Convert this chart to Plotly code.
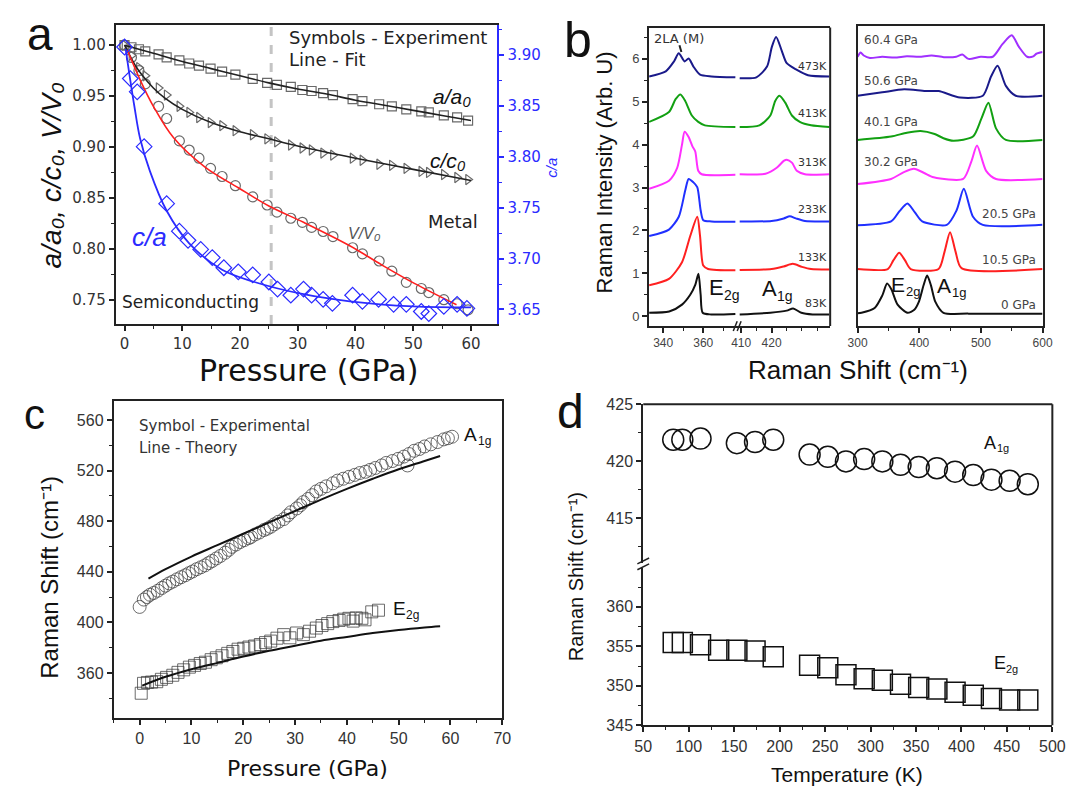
import plotly.graph_objects as go

W, H = 1081, 796
def px(X): return X / W
def py(Y): return 1 - Y / H

FONT = "Liberation Sans, Arial, sans-serif"
DJ = "DejaVu Sans, Verdana, sans-serif"
BLUE = "#2b2bff"
GREY = "#6a6a6a"

# ---------------- panel a : lattice ratios vs pressure ----------------
P_exp = [0, 1.2, 2.5, 3.6, 5.9, 7.3, 9.5, 11.2, 12.9, 14.9, 16.9, 19.2, 22.2, 24.7, 26.4,
         28.8, 30.8, 32.4, 34.4, 36.1, 39.5, 41.2, 44.1, 46.3, 48.8, 51.4, 52.7, 55.3, 57.6, 59.5]
a_over_a0 = [1.000, 0.998, 0.996, 0.994, 0.991, 0.988, 0.985, 0.982, 0.980, 0.977, 0.974, 0.971,
             0.967, 0.963, 0.961, 0.959, 0.956, 0.955, 0.953, 0.951, 0.947, 0.945, 0.942, 0.940,
             0.937, 0.935, 0.934, 0.931, 0.929, 0.926]
c_over_c0 = [1.000, 0.990, 0.978, 0.970, 0.958, 0.951, 0.940, 0.934, 0.929, 0.924, 0.921, 0.916,
             0.912, 0.908, 0.905, 0.902, 0.899, 0.897, 0.894, 0.892, 0.889, 0.887, 0.883, 0.882,
             0.879, 0.876, 0.875, 0.873, 0.870, 0.868]
V_over_V0 = [1.000, 0.988, 0.975, 0.962, 0.940, 0.928, 0.906, 0.897, 0.889, 0.879, 0.871, 0.862,
             0.851, 0.843, 0.836, 0.830, 0.826, 0.821, 0.817, 0.812, 0.801, 0.795, 0.788, 0.778,
             0.767, 0.761, 0.757, 0.750, 0.746, 0.740]
P_ca = [0, 1, 2.2, 3.4, 7.3, 9.5, 11, 13.2, 15.2, 17.2, 19.7, 22.2, 25, 26.5, 28.8, 31, 32.4,
        34.4, 36, 39.5, 41.2, 44, 46.6, 48.8, 51.4, 52.7, 55.3, 57.6, 59.3]
c_over_a = [3.908, 3.877, 3.864, 3.810, 3.754, 3.727, 3.718, 3.709, 3.701, 3.691, 3.687, 3.684,
            3.677, 3.670, 3.664, 3.670, 3.664, 3.660, 3.656, 3.664, 3.658, 3.660, 3.655, 3.655,
            3.648, 3.646, 3.653, 3.655, 3.651]
P_afit = [0, 5, 10, 15, 20, 25, 30, 35, 40, 45, 50, 55, 60]
a_fit = [1.000, 0.992, 0.984, 0.977, 0.970, 0.963, 0.957, 0.952, 0.946, 0.941, 0.936, 0.931, 0.926]
P_cfit = [0, 1, 2, 3, 5, 7, 10, 15, 20, 25, 30, 40, 50, 60]
c_fit = [1.000, 0.989, 0.979, 0.971, 0.958, 0.948, 0.937, 0.924, 0.915, 0.908, 0.901, 0.889, 0.878, 0.867]
P_Vfit = [0.5, 2.7, 5, 8.5, 14, 19.7, 25, 31, 39, 44.6, 50.2, 57.5]
V_fit = [0.995, 0.966, 0.940, 0.909, 0.880, 0.860, 0.842, 0.826, 0.803, 0.784, 0.766, 0.745]
P_cafit = [0.2, 1.7, 2.7, 4.4, 7.3, 11.2, 16.9, 22.5, 31, 39, 50, 60]
ca_fit = [3.906, 3.850, 3.818, 3.786, 3.747, 3.715, 3.689, 3.677, 3.665, 3.658, 3.653, 3.652]
P_transition = 25.4

# ---------------- panel b : Raman spectra ----------------
t83_x1 = [333, 343, 349.4, 353.5, 356, 357.6, 358.7, 359.7, 364, 376]
t83_y1 = [0.08, 0.11, 0.27, 0.50, 0.73, 0.99, 0.50, 0.08, 0.04, 0.05]
t83_x2 = [409.5, 419.6, 425, 427.1, 429.8, 433.5, 439]
t83_y2 = [0.04, 0.08, 0.13, 0.18, 0.08, 0.04, 0.04]
t133_x1 = [333, 342.9, 349.4, 353.5, 357, 358.4, 360, 362.4, 376]
t133_y1 = [0.72, 0.87, 1.26, 1.87, 2.32, 1.87, 1.18, 1.10, 1.07]
t133_x2 = [409.5, 420, 424, 427, 430, 433, 439]
t133_y2 = [1.08, 1.10, 1.16, 1.22, 1.15, 1.10, 1.09]
t233_x1 = [333, 342.9, 347.8, 351, 352.7, 355.1, 357, 358.7, 360, 364.1, 376]
t233_y1 = [1.87, 2.02, 2.32, 2.93, 3.20, 3.12, 3.01, 2.47, 2.24, 2.21, 2.20]
t233_x2 = [409.5, 420, 424, 426, 428, 431, 439]
t233_y2 = [2.21, 2.22, 2.28, 2.33, 2.28, 2.22, 2.21]
t313_x1 = [333, 342.9, 347, 349.4, 350.7, 352.7, 354.6, 356, 357.5, 359.2, 376]
t313_y1 = [2.97, 3.16, 3.46, 4.00, 4.30, 4.18, 3.96, 3.84, 3.39, 3.31, 3.30]
t313_x2 = [409.5, 418, 421.7, 424, 425, 426.7, 428.3, 431, 439]
t313_y2 = [3.31, 3.32, 3.46, 3.62, 3.65, 3.58, 3.39, 3.31, 3.31]
t413_x1 = [333, 342.9, 346.2, 348.6, 351, 354.3, 357.5, 360.8, 376]
t413_y1 = [4.53, 4.76, 5.06, 5.17, 5.02, 4.68, 4.53, 4.45, 4.41]
t413_x2 = [409.5, 416, 419.6, 421.2, 422.6, 424.5, 426.7, 429.3, 433, 439]
t413_y2 = [4.41, 4.45, 4.68, 5.02, 5.14, 4.98, 4.68, 4.53, 4.45, 4.41]
t473_x1 = [333, 341.3, 345.4, 347.8, 350.7, 352.7, 355.1, 358.4, 364.1, 376]
t473_y1 = [5.59, 5.71, 5.94, 6.13, 5.94, 6.01, 5.82, 5.63, 5.59, 5.57]
t473_x2 = [409.5, 415, 418.5, 420.1, 421.5, 423.3, 425, 428.2, 432, 439]
t473_y2 = [5.55, 5.57, 5.82, 6.28, 6.51, 6.20, 5.90, 5.75, 5.62, 5.59]

p0_x = [300, 306.4, 327.7, 340, 347.9, 355, 364.9, 380.9, 392, 399.5, 407, 412.8, 419, 426, 439.3, 480, 600]
p0_y = [0.07, 0.08, 0.19, 0.48, 0.76, 0.62, 0.27, 0.08, 0.15, 0.34, 0.72, 0.95, 0.72, 0.34, 0.08, 0.06, 0.06]
p10_x = [300, 349, 358, 367.5, 377, 386.2, 431.4, 441, 450, 459, 468.6, 600]
p10_y = [1.10, 1.10, 1.30, 1.48, 1.30, 1.10, 1.10, 1.50, 1.96, 1.50, 1.12, 1.10]
p20_x = [300, 354.3, 368, 380.9, 393, 404.8, 444.7, 460.6, 472.3, 487.2, 503.1, 600]
p20_y = [2.12, 2.21, 2.45, 2.63, 2.42, 2.21, 2.13, 2.47, 2.97, 2.32, 2.13, 2.13]
p30_x = [300, 354.3, 375, 391.5, 408, 423.4, 471.3, 484.6, 493.7, 508.5, 524.5, 600]
p30_y = [3.08, 3.20, 3.36, 3.44, 3.34, 3.24, 3.20, 3.61, 3.98, 3.39, 3.20, 3.20]
p40_x = [300, 354.3, 380, 402.1, 425, 439.3, 455.3, 487.2, 500.6, 512.2, 524.5, 540.5, 600]
p40_y = [4.11, 4.19, 4.28, 4.32, 4.25, 4.15, 4.09, 4.19, 4.60, 4.98, 4.38, 4.11, 4.11]
p50_x = [300, 340, 375.5, 410, 431.4, 466, 503.1, 516.5, 527.1, 540.5, 556.4, 600]
p50_y = [5.14, 5.22, 5.29, 5.25, 5.25, 5.10, 5.14, 5.59, 5.84, 5.37, 5.14, 5.14]
p60_x = [300, 305, 310, 320, 340, 360, 380, 400, 420, 440, 460, 470, 480, 500, 519.3, 535.3, 550, 561.7, 575, 585, 590, 600]
p60_y = [6.05, 6.15, 6.08, 6.02, 6.05, 6.03, 6.06, 6.05, 6.08, 6.04, 6.05, 6.10, 6.00, 6.05, 6.05, 6.35, 6.55, 6.28, 6.05, 6.06, 6.12, 6.16]

# ---------------- panel c : Raman shift vs pressure ----------------
P_A1g = [0, 0.8, 1.4, 2, 2.7, 3.5, 4.3, 5, 5.7, 6.4, 7.2, 8, 8.8, 9.5, 10.2, 11, 11.8, 12.6, 13.3,
         14, 14.8, 15.6, 16.5, 17.2, 17.8, 18.6, 19.4, 20.2, 21, 21.5, 22.3, 23.1, 24, 24.6, 25.3,
         26, 26.8, 27.8, 28.6, 29.2, 30.3, 31, 31.6, 32.5, 33.3, 34.1, 35, 36, 37.3, 38.2, 39.3,
         40.4, 41.5, 42.5, 43.6, 44.5, 45.5, 46.7, 47.6, 48.8, 49.9, 51, 51.7, 52, 53, 54, 55,
         56.2, 57.5, 58.7, 59.5, 60.3]
A1g_exp = [412.2, 418, 420, 421.8, 423.2, 425, 427.2, 429, 430.8, 432.2, 434, 435.7, 437.2, 438.8, 440.2,
           442, 443.5, 445, 446.8, 448.5, 450.5, 452.5, 455, 457.3, 459.7, 461.5, 463.5, 465, 466.5,
           467.5, 469.5, 471, 473, 474, 475.5, 477.5, 479.5, 481.6, 484.5, 487, 490, 492.5, 495,
           497.5, 500.5, 503.5, 505.5, 507.5, 509.9, 512, 513.5, 515, 516.5, 518, 519, 520.5, 522,
           524, 526, 527.5, 529.2, 531, 524, 533, 535.6, 537, 539, 540.7, 542.5, 544.6, 545.5, 546.7]
P_E2g = [0.3, 0.75, 1.5, 2.3, 3.3, 4.2, 5.2, 6.4, 7.4, 8.5, 9.6, 10.6, 11.7, 12.7, 13.8, 14.8,
         15.9, 17, 18, 19, 20.1, 21.1, 22.2, 23.3, 24.3, 25.3, 26.5, 27.8, 29, 30.3, 31.6, 32.8,
         34.1, 35.2, 36.3, 37.3, 38.5, 39.4, 40.4, 41.2, 41.8, 42.9, 43.5, 44.8, 46.1]
E2g_exp = [344, 351.8, 352.5, 352.8, 353.1, 355, 356.5, 358.2, 360.5, 362.5, 364.6, 366, 367.5,
           368.5, 370.5, 372, 373.6, 375.5, 377, 378.8, 379.5, 380.5, 381.3, 382.5, 384, 385.2,
           387.5, 390.3, 387.8, 391.6, 390.3, 393, 395.5, 397.5, 399, 400.6, 401.5, 402.5, 403.2,
           401, 403.5, 403.2, 402, 408.3, 409.6]
P_A1g_th = [1.7, 5, 10, 15, 20, 25, 30, 35, 40, 45, 50, 55, 58]
A1g_th = [434.5, 442, 452, 461, 470, 479, 488, 497, 505.5, 513.5, 521, 527.5, 531.5]
P_E2g_th = [0.5, 5, 10, 15, 20, 25, 30, 35, 40, 45, 50, 55, 58]
E2g_th = [350, 357, 363, 368, 373, 377.5, 381.5, 385.5, 388.5, 391.5, 394, 396, 397]

# ---------------- panel d : Raman shift vs temperature ----------------
T_A1g = [83, 93, 113, 153, 173, 193, 233, 253, 273, 293, 313, 333, 353, 373, 393, 413, 433, 453, 473]
A1g_T = [421.9, 421.9, 422.0, 421.6, 421.7, 421.9, 420.6, 420.4, 420.0, 420.2, 420.0, 419.7,
         419.5, 419.4, 419.1, 418.8, 418.4, 418.3, 418.0]
T_E2g = [83, 93, 113, 133, 153, 173, 193, 233, 253, 273, 293, 313, 333, 353, 373, 393, 413, 433, 453, 473]
E2g_T = [355.5, 355.5, 355.2, 354.5, 354.5, 354.4, 353.7, 352.6, 352.3, 351.4, 350.9, 350.7,
         350.2, 349.8, 349.6, 349.2, 348.8, 348.4, 348.2, 348.2]

fig = go.Figure()

# panel a traces
mk = dict(size=9, line=dict(width=1.2, color=GREY))
fig.add_trace(go.Scatter(x=P_exp, y=a_over_a0, mode="markers", xaxis="x", yaxis="y",
                         marker=dict(symbol="square-open", color=GREY, **mk)))
fig.add_trace(go.Scatter(x=P_exp, y=c_over_c0, mode="markers", xaxis="x", yaxis="y",
                         marker=dict(symbol="triangle-right-open", color=GREY, **mk)))
fig.add_trace(go.Scatter(x=P_exp, y=V_over_V0, mode="markers", xaxis="x", yaxis="y",
                         marker=dict(symbol="circle-open", color=GREY, size=10, line=dict(width=1.2, color=GREY))))
fig.add_trace(go.Scatter(x=P_ca, y=c_over_a, mode="markers", xaxis="x", yaxis="y2",
                         marker=dict(symbol="diamond-open", color=BLUE, size=12, line=dict(width=1.2, color=BLUE))))
fig.add_trace(go.Scatter(x=P_afit, y=a_fit, mode="lines", xaxis="x", yaxis="y",
                         line=dict(color="#222", width=1.6, shape="spline")))
fig.add_trace(go.Scatter(x=P_cfit, y=c_fit, mode="lines", xaxis="x", yaxis="y",
                         line=dict(color="#222", width=1.6, shape="spline")))
fig.add_trace(go.Scatter(x=P_Vfit, y=V_fit, mode="lines", xaxis="x", yaxis="y",
                         line=dict(color="#ff2020", width=1.6, shape="spline")))
fig.add_trace(go.Scatter(x=P_cafit, y=ca_fit, mode="lines", xaxis="x", yaxis="y2",
                         line=dict(color=BLUE, width=1.8, shape="spline")))

# panel b traces
temp_series = [
    (t83_x1, t83_y1, t83_x2, t83_y2, "#111111"),
    (t133_x1, t133_y1, t133_x2, t133_y2, "#ff2020"),
    (t233_x1, t233_y1, t233_x2, t233_y2, "#2030ff"),
    (t313_x1, t313_y1, t313_x2, t313_y2, "#ff30ff"),
    (t413_x1, t413_y1, t413_x2, t413_y2, "#12a012"),
    (t473_x1, t473_y1, t473_x2, t473_y2, "#1a1a8a"),
]
for x1, y1, x2, y2, col in temp_series:
    fig.add_trace(go.Scatter(x=x1, y=y1, mode="lines", xaxis="x2", yaxis="y3",
                             line=dict(color=col, width=2, shape="spline", smoothing=0.7)))
    fig.add_trace(go.Scatter(x=x2, y=y2, mode="lines", xaxis="x3", yaxis="y3",
                             line=dict(color=col, width=2, shape="spline", smoothing=0.7)))
press_series = [
    (p0_x, p0_y, "#111111"), (p10_x, p10_y, "#ff2020"), (p20_x, p20_y, "#2030ff"),
    (p30_x, p30_y, "#ff30ff"), (p40_x, p40_y, "#12a012"), (p50_x, p50_y, "#1a1a8a"),
    (p60_x, p60_y, "#a030ff"),
]
for xs, ys, col in press_series:
    fig.add_trace(go.Scatter(x=xs, y=ys, mode="lines", xaxis="x4", yaxis="y4",
                             line=dict(color=col, width=2, shape="spline", smoothing=0.7)))

# panel c traces
DK = "rgba(60,60,60,0.75)"
fig.add_trace(go.Scatter(x=P_A1g, y=A1g_exp, mode="markers", xaxis="x5", yaxis="y5",
                         marker=dict(symbol="circle-open", size=13, color=DK, line=dict(width=1, color=DK))))
fig.add_trace(go.Scatter(x=P_E2g, y=E2g_exp, mode="markers", xaxis="x5", yaxis="y5",
                         marker=dict(symbol="square-open", size=12, color=DK, line=dict(width=1, color=DK))))
fig.add_trace(go.Scatter(x=P_A1g_th, y=A1g_th, mode="lines", xaxis="x5", yaxis="y5",
                         line=dict(color="#111", width=2, shape="spline")))
fig.add_trace(go.Scatter(x=P_E2g_th, y=E2g_th, mode="lines", xaxis="x5", yaxis="y5",
                         line=dict(color="#111", width=2, shape="spline")))

# panel d traces
fig.add_trace(go.Scatter(x=T_A1g, y=A1g_T, mode="markers", xaxis="x6", yaxis="y6",
                         marker=dict(symbol="circle-open", size=21, color="#111", line=dict(width=1.5, color="#111"))))
fig.add_trace(go.Scatter(x=T_E2g, y=E2g_T, mode="markers", xaxis="x6", yaxis="y7",
                         marker=dict(symbol="square-open", size=20, color="#111", line=dict(width=1.5, color="#111"))))


def ax(**kw):
    d = dict(showline=True, linecolor="#222", linewidth=2, ticks="outside", ticklen=5,
             tickwidth=1.5, tickcolor="#222", showgrid=False, zeroline=False,
             tickfont=dict(family=FONT, size=16, color="#333"))
    d.update(kw)
    return d

def minor(vals, color="#222"):
    return dict(tickmode="array", tickvals=vals, ticks="outside", ticklen=3, tickwidth=1.2, tickcolor=color)

TFB = dict(family=FONT, size=12, color="#444")

layout = dict(
    autosize=True, margin=dict(l=0, r=0, t=0, b=0),
    paper_bgcolor="white", plot_bgcolor="rgba(0,0,0,0)", showlegend=False,
    xaxis=ax(domain=[px(108), px(498)], range=[-1.525, 64.58], anchor="y", mirror=True,
             tickvals=[0, 10, 20, 30, 40, 50, 60], minor=minor([5, 15, 25, 35, 45, 55, 65]),
             tickfont=dict(family=DJ, size=15, color="#333")),
    yaxis=ax(domain=[py(323), py(17)], range=[0.726, 1.0202], anchor="x",
             tickvals=[0.75, 0.80, 0.85, 0.90, 0.95, 1.00], tickformat=".2f",
             minor=minor([0.775, 0.825, 0.875, 0.925, 0.975]),
             tickfont=dict(family=DJ, size=15, color="#333")),
    yaxis2=ax(overlaying="y", side="right", anchor="x", range=[3.6356, 3.930],
              tickvals=[3.65, 3.70, 3.75, 3.80, 3.85, 3.90], tickformat=".2f",
              linecolor=BLUE, tickcolor=BLUE, tickfont=dict(family=DJ, size=15, color=BLUE),
              minor=minor([3.675, 3.725, 3.775, 3.825, 3.875, 3.925], BLUE)),
    xaxis2=ax(domain=[px(653), px(744)], range=[333, 377.4], anchor="y3", mirror=True,
              tickvals=[340, 360], minor=minor([350, 370]), tickfont=TFB),
    xaxis3=ax(domain=[px(744), px(838)], range=[409, 439.3], anchor="y3", mirror=True,
              tickvals=[410, 420], minor=minor([415, 425, 430, 435]), tickfont=TFB),
    yaxis3=ax(domain=[py(325), py(20)], range=[-0.23, 6.73], anchor="x2",
              tickvals=[0, 1, 2, 3, 4, 5, 6], minor=minor([0.5, 1.5, 2.5, 3.5, 4.5, 5.5, 6.5]),
              tickfont=dict(family=FONT, size=13, color="#444")),
    xaxis4=ax(domain=[px(866), px(1055)], range=[300, 600], anchor="y4", mirror=True,
              tickvals=[300, 400, 500, 600], minor=minor([350, 450, 550]), tickfont=TFB),
    yaxis4=ax(domain=[py(325), py(18)], range=[-0.23, 6.776], anchor="x4", mirror=True,
              ticks="", showticklabels=False),
    xaxis5=ax(domain=[px(106), px(503)], range=[-5, 70], anchor="y5", mirror=True,
              tickvals=[0, 10, 20, 30, 40, 50, 60, 70], minor=minor([-5, 5, 15, 25, 35, 45, 55, 65])),
    yaxis5=ax(domain=[py(725), py(402)], range=[324.8, 574.6], anchor="x5", mirror=True,
              tickvals=[360, 400, 440, 480, 520, 560], minor=minor([340, 380, 420, 460, 500, 540])),
    xaxis6=ax(domain=[px(647), px(1065)], range=[50, 500], anchor="y7",
              tickvals=[50, 100, 150, 200, 250, 300, 350, 400, 450, 500],
              minor=minor([75, 125, 175, 225, 275, 325, 375, 425, 475])),
    yaxis6=ax(domain=[py(567), py(405)], range=[411.1, 425], anchor="x6",
              tickvals=[415, 420, 425], minor=minor([412.5, 417.5, 422.5])),
    yaxis7=ax(domain=[py(733), py(572)], range=[345, 364.95], anchor="x6",
              tickvals=[345, 350, 355, 360], minor=minor([347.5, 352.5, 357.5, 362.5])),
)

def pline(X0, Y0, X1, Y1, w=1.5, color="#222"):
    return dict(type="line", xref="paper", yref="paper", x0=px(X0), x1=px(X1),
                y0=py(Y0), y1=py(Y1), line=dict(color=color, width=w))

shapes = [
    dict(type="line", xref="x", yref="paper", x0=P_transition, x1=P_transition,
         y0=py(323), y1=py(17), line=dict(color="#c4c4c4", width=3, dash="dash"), layer="below"),
    pline(838, 325, 838, 20, 2),
    pline(739, 330, 743, 320), pline(743, 330, 747, 320),
    pline(647, 405, 1065, 405, 2), pline(1065, 405, 1065, 733, 2),
    pline(641, 568, 653, 562), pline(641, 574, 653, 568),
    pline(684, 38, 686, 45, 2),
]
layout["shapes"] = shapes

def ann(text, X, Y, size, family=FONT, color="#111", xanchor="center", angle=0):
    return dict(text=text, x=px(X), y=py(Y), xref="paper", yref="paper", showarrow=False,
                xanchor=xanchor, yanchor="middle", textangle=angle,
                font=dict(family=family, size=size, color=color))

def sublabel(main, sub, X, Y, size, color="#111", main_w=0.667):
    return [ann(main, X, Y, size, color=color, xanchor="left"),
            ann(sub, X + main_w * size + 1, Y + 0.33 * size, round(size * 0.62), color=color, xanchor="left")]

anns = [
    # panel a
    ann("a", 31, 27, 46),
    ann("<i>a/a₀, c/c₀, V/V₀</i>", 42, 171, 28, angle=-90),
    ann("<i>c/a</i>", 553, 163, 15, color=BLUE, angle=-90),
    ann("Pressure (GPa)", 305, 370, 30, family=DJ),
    ann("Symbols - Experiment", 283, 30, 18, family=DJ, color="#222", xanchor="left"),
    ann("Line - Fit", 283, 53, 18, family=DJ, color="#222", xanchor="left"),
    ann("<i>a/a₀</i>", 452, 90, 21),
    ann("<i>c/c₀</i>", 448, 156, 21),
    ann("<i>V/V₀</i>", 362, 230, 16, color="#555"),
    ann("Metal", 453, 218, 18, family=DJ, color="#222"),
    ann("<i>c/a</i>", 143, 234, 26, color=BLUE),
    ann("Semiconducting", 112, 300, 17, family=DJ, color="#222", xanchor="left"),
    # panel b
    ann("b", 580, 33, 50),
    ann("Raman Intensity (Arb. U)", 607, 168, 22, angle=-90),
    ann("Raman Shift (cm⁻¹)", 866, 370, 26),
    ann("2LA (M)", 656, 31, 13, family=DJ, color="#333", xanchor="left"),
    ann("473K", 837, 60, 11, family=DJ, color="#333", xanchor="right"),
    ann("413K", 837, 108, 11, family=DJ, color="#333", xanchor="right"),
    ann("313K", 837, 158, 11, family=DJ, color="#333", xanchor="right"),
    ann("233K", 837, 206, 11, family=DJ, color="#333", xanchor="right"),
    ann("133K", 837, 255, 11, family=DJ, color="#333", xanchor="right"),
    ann("83K", 837, 302, 11, family=DJ, color="#333", xanchor="right"),
    ann("60.4 GPa", 871, 33, 12, family=DJ, color="#444", xanchor="left"),
    ann("50.6 GPa", 871, 75, 12, family=DJ, color="#444", xanchor="left"),
    ann("40.1 GPa", 871, 116, 12, family=DJ, color="#444", xanchor="left"),
    ann("30.2 GPa", 871, 157, 12, family=DJ, color="#444", xanchor="left"),
    ann("20.5 GPa", 1050, 211, 12, family=DJ, color="#444", xanchor="right"),
    ann("10.5 GPa", 1050, 257, 12, family=DJ, color="#444", xanchor="right"),
    ann("0 GPa", 1050, 303, 12, family=DJ, color="#444", xanchor="right"),
    # panel c
    ann("c", 25, 415, 42),
    ann("Symbol - Experimental", 130, 427, 15, family=DJ, color="#333", xanchor="left"),
    ann("Line - Theory", 130, 450, 15, family=DJ, color="#333", xanchor="left"),
    ann("Raman Shift (cm⁻¹)", 40, 582, 24, angle=-90),
    ann("Pressure (GPa)", 304, 777, 22, family=DJ),
    # panel d
    ann("d", 573, 412, 48),
    ann("Raman Shift (cm⁻¹)", 578, 581, 20, angle=-90),
    ann("Temperature (K)", 855, 783, 21),
]
anns += sublabel("E", "2g", 712, 286, 22)
anns += sublabel("A", "1g", 766, 287, 22)
anns += sublabel("E", "2g", 898, 283, 21)
anns += sublabel("A", "1g", 945, 284, 21)
anns += sublabel("A", "1g", 462, 436, 19)
anns += sublabel("E", "2g", 389, 614, 19)
anns += sublabel("A", "1g", 993, 444, 18)
anns += sublabel("E", "2g", 1003, 669, 18)
layout["annotations"] = anns

fig.update_layout(**layout)
fig.write_html(
    "out.html",
    default_width="100vw",
    default_height="100vh",
    config={"displayModeBar": False},
    post_script="document.documentElement.style.margin='0';document.body.style.margin='0';"
                "document.documentElement.style.overflow='hidden';document.body.style.overflow='hidden';",
)
